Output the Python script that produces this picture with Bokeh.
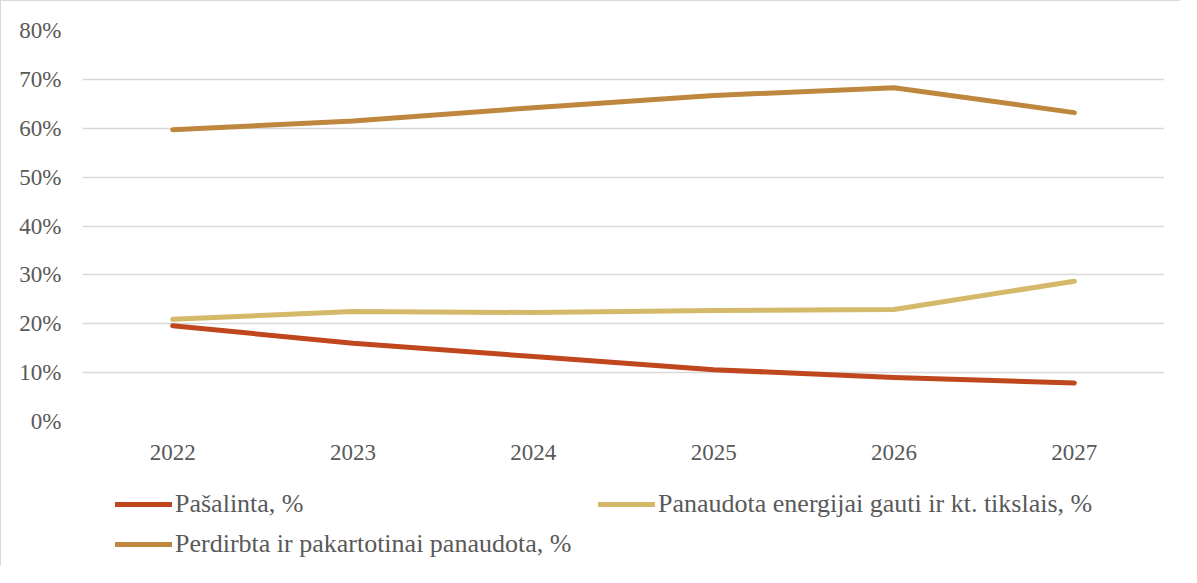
from bokeh.plotting import figure
from bokeh.models import Legend, LegendItem, FactorRange, Range1d, FixedTicker
from bokeh.layouts import column
from bokeh.embed import file_html
from bokeh.resources import INLINE

years = ["2022", "2023", "2024", "2025", "2026", "2027"]
pasalinta = [19.6, 16.0, 13.3, 10.6, 9.0, 7.9]
panaudota_energijai = [20.9, 22.5, 22.3, 22.7, 22.9, 28.7]
perdirbta = [59.7, 61.5, 64.2, 66.7, 68.3, 63.2]
y_ticks = [0, 10, 20, 30, 40, 50, 60, 70, 80]

names = ["Pašalinta, %", "Panaudota energijai gauti ir kt. tikslais, %", "Perdirbta ir pakartotinai panaudota, %"]
colors = ["#C0461E", "#D4B96A", "#BF873E"]
series = [pasalinta, panaudota_energijai, perdirbta]

FONT = "Liberation Serif"
TXT = "#595959"
BORDER = "1px solid #D9D9D9"

# main chart
p = figure(width=1180, height=470, x_range=FactorRange(*years), y_range=Range1d(0, 80),
           output_backend="svg", toolbar_location=None,
           min_border_left=81, min_border_right=17, min_border_top=29, min_border_bottom=50)
p.styles = {"border-top": BORDER, "border-left": BORDER}
p.outline_line_color = None
p.background_fill_color = "white"
p.border_fill_color = "white"

for vals, c in zip(series, colors):
    p.line(years, vals, line_color=c, line_width=5, line_cap="round", line_join="round")

p.yaxis.ticker = FixedTicker(ticks=y_ticks)
p.yaxis.major_label_overrides = {t: f"{t}%" for t in y_ticks}
p.ygrid.ticker = FixedTicker(ticks=y_ticks)
p.ygrid.grid_line_color = "#D9D9D9"
p.ygrid.grid_line_width = 1.5
p.xgrid.grid_line_color = None

for ax in [p.xaxis[0], p.yaxis[0]]:
    ax.axis_line_color = None
    ax.major_tick_line_color = None
    ax.minor_tick_line_color = None
    ax.major_label_text_font = FONT
    ax.major_label_text_font_size = "23px"
    ax.major_label_text_color = TXT
p.yaxis.major_label_standoff = 15
p.xaxis.major_label_standoff = 17

# legend strip below the chart (its frame is aligned with the chart's frame)
lg = figure(width=1180, height=96, x_range=Range1d(0, 1), y_range=Range1d(0, 1),
            output_backend="svg", toolbar_location=None, x_axis_type=None, y_axis_type=None,
            min_border=0)
lg.styles = {"border-left": BORDER}
lg.outline_line_color = None
lg.grid.grid_line_color = None
lg.background_fill_color = "white"
lg.border_fill_color = "white"

nan = float("nan")
leg_renderers = [lg.line([nan, nan], [nan, nan], line_color=c, line_width=5, line_cap="round") for c in colors]
items = [LegendItem(label=n, renderers=[r]) for n, r in zip(names, leg_renderers)]
legend = Legend(items=items, orientation="horizontal", ncols=2, location=(33, 7),
                label_text_font=FONT, label_text_font_size="26px", label_text_color=TXT,
                glyph_width=57, glyph_height=30, label_height=30, label_standoff=3,
                label_width=413, spacing=10, padding=0, margin=0, border_line_color=None,
                background_fill_alpha=0)
lg.add_layout(legend, "center")

layout = column(p, lg, spacing=0)
open("out.html", "w").write(file_html(layout, INLINE))
